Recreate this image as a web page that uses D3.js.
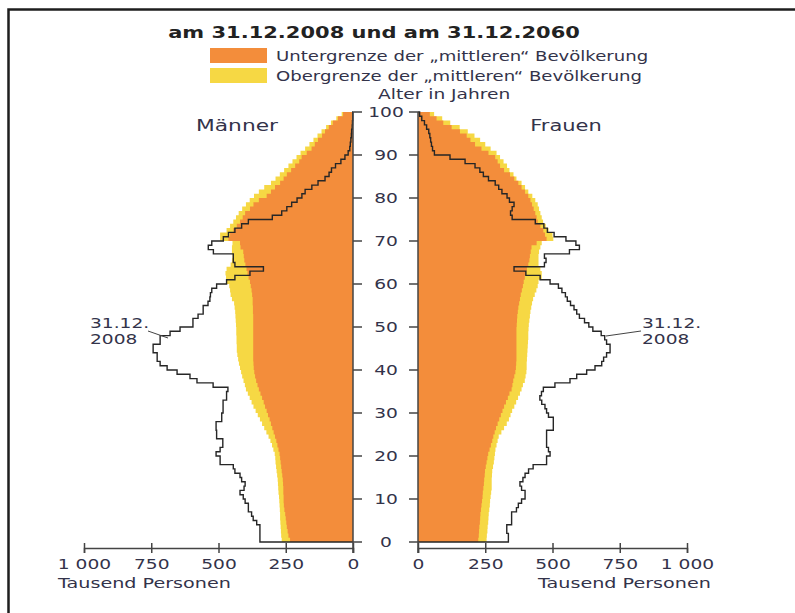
<!DOCTYPE html>
<html>
<head>
<meta charset="utf-8">
<script src="https://cdnjs.cloudflare.com/ajax/libs/d3/7.8.5/d3.min.js"></script>
<style>
  body { margin: 0; background: #fff; }
  svg { display: block; }
  text { font-family: "DejaVu Sans", sans-serif; fill: #33334a; }
</style>
</head>
<body>
<div id="chart"></div>
<script>
// ages 0..99, values in thousand persons
const ages = d3.range(0, 100);

const men2008 = [
  346, 346, 346, 346, 358, 371, 377, 389, 389, 401,
  408, 420, 405, 401, 414, 420, 439, 445, 494, 494,
  509, 494, 484, 484, 507, 507, 509, 509, 488, 488,
  483, 483, 483, 470, 470, 465, 520, 580, 606, 654,
  691, 717, 728, 728, 743, 743, 717, 717, 680, 643,
  595, 595, 576, 557, 557, 539, 532, 530, 525, 507,
  470, 439, 383, 333, 439, 445, 445, 519, 538, 525,
  482, 463, 439, 414, 389, 300, 265, 246, 228, 208,
  190, 178, 153, 130, 104, 89, 80, 65, 45, 30,
  18, 12, 10, 8, 6, 5, 3, 2, 1, 1
];
const men2060low = [
  234, 240, 243, 246, 248, 250, 252, 255, 257, 258,
  258, 259, 259, 260, 261, 263, 265, 267, 269, 271,
  273, 277, 281, 285, 290, 295, 300, 305, 310, 316,
  321, 327, 332, 338, 344, 350, 355, 360, 364, 367,
  369, 370, 371, 371, 371, 371, 371, 371, 371, 371,
  371, 371, 371, 372, 372, 373, 373, 375, 377, 380,
  383, 388, 392, 396, 400, 404, 406, 408, 418, 420,
  463, 457, 445, 432, 420, 410, 401, 383, 370, 350,
  321, 305, 290, 271, 258, 246, 230, 215, 200, 191,
  172, 154, 142, 130, 115, 104, 90, 75, 56, 37
];
const men2060high = [
  265, 267, 268, 269, 270, 271, 271, 272, 273, 274,
  275, 277, 278, 279, 280, 282, 284, 286, 288, 289,
  291, 296, 301, 307, 314, 322, 330, 338, 346, 354,
  362, 370, 377, 384, 391, 398, 402, 407, 412, 416,
  420, 424, 427, 430, 432, 432, 433, 433, 434, 434,
  435, 436, 437, 438, 440, 442, 450, 455, 457, 460,
  470, 472, 474, 470, 455, 450, 448, 450, 450, 448,
  494, 494, 470, 457, 445, 435, 425, 412, 398, 384,
  368, 350, 330, 305, 288, 272, 256, 240, 225, 210,
  195, 178, 162, 147, 132, 117, 100, 82, 62, 42
];

const women2008 = [
  336, 336, 330, 330, 348, 348, 348, 366, 373, 385,
  398, 398, 385, 379, 390, 398, 411, 428, 478, 478,
  491, 485, 478, 478, 478, 478, 503, 503, 503, 485,
  478, 472, 460, 453, 459, 466, 509, 565, 590, 627,
  658, 683, 690, 701, 714, 714, 701, 694, 681, 650,
  635, 619, 600, 590, 580, 567, 555, 548, 535, 522,
  491, 454, 401, 357, 470, 476, 470, 563, 600, 587,
  550, 506, 481, 468, 436, 350, 344, 350, 357, 340,
  331, 312, 300, 287, 262, 243, 230, 212, 175, 119,
  61, 54, 50, 47, 44, 40, 32, 24, 14, 6
];
const women2060low = [
  224, 226, 227, 228, 230, 231, 232, 234, 236, 238,
  240, 241, 243, 245, 246, 248, 249, 252, 255, 258,
  261, 266, 271, 276, 280, 285, 290, 296, 302, 308,
  314, 320, 327, 334, 340, 348, 351, 354, 358, 362,
  364, 365, 366, 366, 366, 366, 366, 366, 366, 366,
  367, 368, 369, 371, 373, 376, 379, 382, 386, 390,
  393, 397, 402, 405, 410, 414, 416, 419, 422, 441,
  478, 472, 466, 455, 445, 441, 436, 430, 424, 418,
  410, 398, 385, 373, 358, 342, 320, 305, 296, 287,
  262, 236, 212, 195, 181, 156, 125, 94, 69, 44
];
const women2060high = [
  255, 256, 258, 259, 261, 262, 263, 265, 267, 268,
  270, 272, 274, 274, 274, 275, 276, 279, 282, 284,
  286, 288, 292, 296, 300, 310, 320, 330, 338, 344,
  350, 358, 365, 372, 379, 385, 390, 397, 400, 403,
  404, 404, 405, 406, 407, 408, 409, 410, 410, 411,
  412, 414, 416, 418, 421, 424, 428, 434, 440, 445,
  448, 460, 460, 455, 448, 448, 448, 450, 455, 460,
  503, 500, 485, 475, 465, 460, 455, 450, 445, 436,
  425, 410, 398, 385, 366, 355, 340, 331, 318, 305,
  292, 270, 250, 231, 210, 185, 155, 120, 90, 60
];

const xTicks = [0, 250, 500, 750, 1000];
const ageTicks = d3.range(0, 101, 10);

const ORANGE = '#f38d3b';
const YELLOW = '#f6d844';
const SX = 1.38; // the original lettering is wide

const svg = d3.select('#chart').append('svg')
    .attr('width', 795)
    .attr('height', 613);

const y = d3.scaleLinear().domain([0, 100]).range([542, 112]);
const xMen = d3.scaleLinear().domain([0, 1000]).range([353, 84]);
const xWomen = d3.scaleLinear().domain([0, 1000]).range([418, 687]);

// frame
svg.append('path')
    .attr('d', 'M8.5,613V9.5H795')
    .attr('fill', 'none')
    .attr('stroke', '#1e1e1e')
    .attr('stroke-width', 2.5);

/** one point per age edge, the last age repeated for the top edge */
function stepPoints(values) {
    return ages.concat([100]).map(a => [a, values[Math.min(a, 99)]]);
}

function drawSide(x, low, high, old) {
    const area = d3.area()
        .curve(d3.curveStepBefore)
        .y(d => y(d[0]))
        .x0(x(0))
        .x1(d => x(d[1]));

    svg.append('path').attr('d', area(stepPoints(high))).attr('fill', YELLOW);
    svg.append('path').attr('d', area(stepPoints(low))).attr('fill', ORANGE);

    const line = d3.line()
        .curve(d3.curveStepBefore)
        .x(d => x(d[1]))
        .y(d => y(d[0]));
    const pts = [[0, 0]].concat(stepPoints(old), [[100, 0]]);
    svg.append('path')
        .attr('d', line(pts))
        .attr('fill', 'none')
        .attr('stroke', '#262626')
        .attr('stroke-width', 1.4);

    // x axis
    const g = svg.append('g')
        .attr('transform', 'translate(0,548)')
        .call(d3.axisBottom(x).tickValues(xTicks).tickSizeOuter(0).tickSize(5).tickPadding(6)
            .tickFormat(d => d === 1000 ? '1 000' : d));
    g.select('.domain').attr('stroke', '#444').attr('stroke-width', 1.5);
    g.selectAll('.tick line').attr('y1', -5).attr('stroke', '#444').attr('stroke-width', 1.5);
    g.selectAll('.tick text')
        .attr('transform', `scale(${SX},1)`)
        .style('font-size', '13.5px')
        .style('font-family', '"DejaVu Sans", sans-serif')
        .attr('fill', '#33334a');

    // age axis line and ticks
    const dir = x(1000) < x(0) ? 1 : -1;
    svg.append('line')
        .attr('x1', x(0)).attr('x2', x(0))
        .attr('y1', y(100)).attr('y2', 553)
        .attr('stroke', '#444').attr('stroke-width', 1.5);
    svg.selectAll(null)
        .data(ageTicks)
        .enter()
        .append('line')
        .attr('x1', x(0)).attr('x2', x(0) + dir * 9)
        .attr('y1', d => y(d)).attr('y2', d => y(d))
        .attr('stroke', '#444').attr('stroke-width', 1.5);
}

drawSide(xMen, men2060low, men2060high, men2008);
drawSide(xWomen, women2060low, women2060high, women2008);

function label(x, yPos, str, size, anchor = 'start', weight = 'normal', sx = SX) {
    return svg.append('g')
        .attr('transform', `translate(${x},${yPos}) scale(${sx},1)`)
        .append('text')
        .attr('text-anchor', anchor)
        .style('font-size', size + 'px')
        .style('font-weight', weight)
        .text(str);
}

// age labels between the two halves
ageTicks.forEach(t => label(386, y(t) + 5, t, 13.5, 'middle'));

label(374, 38, 'am 31.12.2008 und am 31.12.2060', 15, 'middle', 'bold', 1.4).style('fill', '#222');

// legend
svg.append('rect').attr('x', 210).attr('y', 48).attr('width', 57).attr('height', 15).attr('fill', ORANGE);
svg.append('rect').attr('x', 210).attr('y', 68).attr('width', 57).attr('height', 15).attr('fill', YELLOW);
label(276, 61, 'Untergrenze der \u201emittleren\u201c Bev\u00f6lkerung', 13.5, 'start', 'normal', 1.34);
label(276, 81, 'Obergrenze der \u201emittleren\u201c Bev\u00f6lkerung', 13.5, 'start', 'normal', 1.34);
label(378, 99, 'Alter in Jahren', 13.5);

label(237, 131, 'M\u00e4nner', 15, 'middle', 'normal', 1.45);
label(566, 131, 'Frauen', 15, 'middle', 'normal', 1.4);

label(58, 588, 'Tausend Personen', 13.5, 'start', 'normal', 1.42);
label(538, 588, 'Tausend Personen', 13.5, 'start', 'normal', 1.42);

// 2008 annotations
label(90, 328, '31.12.', 13.5);
label(90, 344, '2008', 13.5);
label(642, 328, '31.12.', 13.5);
label(642, 344, '2008', 13.5);
svg.append('line').attr('x1', 148).attr('y1', 331).attr('x2', 168).attr('y2', 338)
    .attr('stroke', '#444').attr('stroke-width', 1);
svg.append('line').attr('x1', 606).attr('y1', 336).attr('x2', 641).attr('y2', 331)
    .attr('stroke', '#444').attr('stroke-width', 1);
</script>
</body>
</html>
